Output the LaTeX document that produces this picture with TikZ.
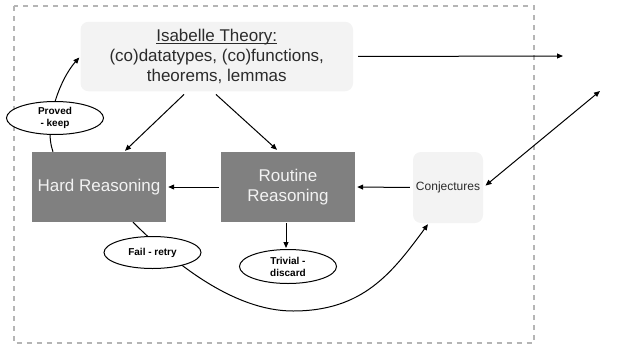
\documentclass[tikz,border=0pt]{standalone}
\usepackage{fontspec}
\setmainfont{Liberation Sans}
\usetikzlibrary{arrows.meta,shapes.geometric,backgrounds}
\definecolor{lightbox}{HTML}{F3F3F3}
\definecolor{darkbox}{HTML}{808080}
\definecolor{frameg}{HTML}{B5B5B5}
\definecolor{txtdark}{HTML}{2B2B2B}
\definecolor{txtlight}{HTML}{F2F2F2}
\newcommand\myul[1]{\setbox0\hbox{#1}\rlap{\rule[-2pt]{\wd0}{0.8pt}}\box0}
\tikzset{
  lightnode/.style={fill=lightbox, rounded corners=8pt, inner sep=0pt, align=center, text=txtdark},
  darknode/.style={fill=darkbox, inner sep=0pt, align=center, text=txtlight,
     minimum width=134pt, minimum height=70pt, font=\fontsize{17}{20}\selectfont},
  oval/.style={ellipse, draw, fill=white, line width=1pt, inner sep=0pt, align=center,
     font=\fontsize{10}{12}\selectfont\bfseries, minimum width=97pt, minimum height=33pt},
  conn/.style={line width=1pt, black},
  arr/.style={conn, -{Triangle[length=6pt,width=5pt]}},
  dbl/.style={conn, {Triangle[length=6pt,width=5pt]}-{Triangle[length=6pt,width=5pt]}},
  frame/.style={draw=frameg, line width=2pt, dash pattern=on 5pt off 5pt}
}
\begin{document}
\begin{tikzpicture}[x=1pt,y=-1pt]
\useasboundingbox (0,0) rectangle (636,348);
\node[lightnode, minimum width=272.5pt, minimum height=69.5pt, font=\fontsize{17}{20}\selectfont] (isa) at (216.75,56.5)
  {\myul{Isabelle Theory:}\\(co)datatypes, (co)functions,\\theorems, lemmas};
\node[darknode] (hard) at (99,187) {Hard Reasoning};
\node[darknode] (routine) at (288,187) {Routine\\Reasoning};
\node[lightnode, minimum width=70pt, minimum height=71pt, font=\fontsize{12}{14}\selectfont] (conj) at (448,187.5) {Conjectures};
\node[oval] (proved) at (55,118) {Proved\\- keep};
\node[oval, minimum height=32pt] (fail) at (152.5,252.5) {Fail - retry};
\node[oval, minimum height=34pt] (trivial) at (288,266.5) {Trivial -\\discard};
\coordinate (outA) at (563,56);
\coordinate (outB) at (600,91);
\begin{pgfonlayer}{background}
\draw[frame] (13.5,6) rectangle (533.5,343);
\draw[arr] ([xshift=-46pt]hard.north) .. controls (43,124) and (60,79) .. ([xshift=-1pt,yshift=-1pt]isa.west);
\draw[arr] ([xshift=34pt]hard.south) .. controls (173,262) and (233,311) .. (293,311)
   .. controls (363,311) and (392,273) .. ([xshift=-20pt,yshift=-1pt]conj.south);
\end{pgfonlayer}
\draw[arr] ([xshift=-32.75pt,yshift=-3pt]isa.south) -- ([xshift=26pt,yshift=1pt]hard.north);
\draw[arr] ([xshift=-0.75pt,yshift=-3pt]isa.south) -- ([xshift=-11pt,yshift=2pt]routine.north);
\draw[arr, shorten <=2pt, shorten >=2pt] (routine.west) -- (hard.east);
\draw[arr, shorten <=3pt, shorten >=2pt] (conj.west) -- (routine.east);
\draw[arr, shorten <=1pt, shorten >=1pt] ([xshift=-2pt]routine.south) -- ([xshift=-2pt]trivial.north);
\draw[arr, shorten <=5pt] (isa.east) -- (outA);
\draw[dbl, shorten <=3pt] (conj.east) -- (outB);
\end{tikzpicture}
\end{document}
